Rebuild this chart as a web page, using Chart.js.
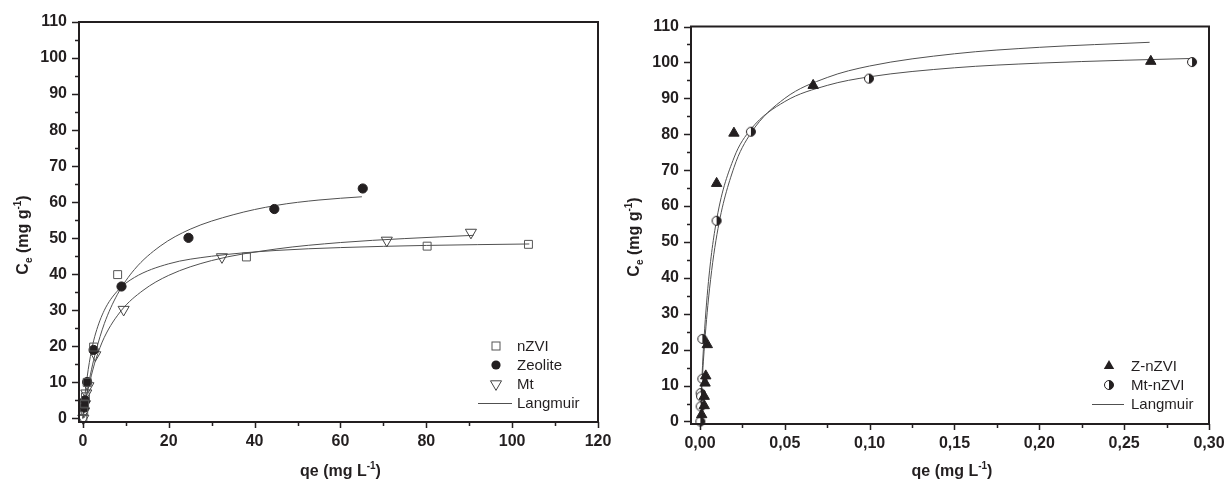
<!DOCTYPE html>
<html>
<head>
<meta charset="utf-8">
<script src="https://cdn.jsdelivr.net/npm/chart.js@4/dist/chart.umd.min.js"></script>
<style>
  html, body { margin: 0; padding: 0; background: #fff; }
  #wrap { position: relative; width: 1227px; height: 486px; }
  canvas { position: absolute; top: 0; }
</style>
</head>
<body>
<div id="wrap">
  <canvas id="left" width="613" height="486" style="left:0"></canvas>
  <canvas id="right" width="614" height="486" style="left:613px"></canvas>
</div>
<script>
// ---- left panel: bare materials ----
const leftXTicks = [0, 20, 40, 60, 80, 100, 120];
const leftYTicks = [0, 10, 20, 30, 40, 50, 60, 70, 80, 90, 100, 110];

const nzviX = [0, 0.2, 0.4, 0.6, 1.0, 2.5, 8.1, 38.1, 80.2, 103.8];
const nzviY = [0, 2, 4, 6, 10, 19.8, 39.9, 44.8, 47.8, 48.3];
const zeoliteX = [0.3, 0.5, 1.0, 2.5, 9.0, 24.6, 44.6, 65.2];
const zeoliteY = [3, 5, 10.1, 19, 36.6, 50.1, 58.1, 63.8];
const mtX = [0.1, 0.3, 0.5, 0.8, 1.3, 2.9, 9.5, 32.4, 70.8, 90.4];
const mtY = [0, 2, 4, 7, 9, 17.6, 30.2, 44.8, 49.4, 51.6];

// Langmuir fit lines
const fitNzviX = [0, 0.5, 1, 2, 3, 5, 8, 12, 20, 30, 45, 60, 80, 104];
const fitNzviY = [0, 6.5, 11.5, 18.8, 23.7, 30, 35.3, 39.1, 42.9, 45, 46.6, 47.4, 48, 48.4];
const fitZeoX = [0, 0.5, 1, 2, 3, 5, 8, 12, 18, 25, 35, 45, 55, 65];
const fitZeoY = [0, 4, 7.5, 13.5, 18.5, 26.3, 34.3, 41.3, 47.8, 52.5, 56.5, 59.1, 60.6, 61.5];
const fitMtX = [0, 0.5, 1, 2, 3, 5, 9, 14, 20, 30, 45, 60, 75, 91];
const fitMtY = [0, 3.6, 6.8, 12, 16.3, 22.5, 30, 35.5, 39.7, 43.8, 47, 48.8, 49.9, 50.8];

// ---- right panel: supported nZVI ----
const rightXTicks = [0, 0.05, 0.10, 0.15, 0.20, 0.25, 0.30];
const rightYTicks = [0, 10, 20, 30, 40, 50, 60, 70, 80, 90, 100, 110];

const znzviX = [0.001, 0.0025, 0.0025, 0.003, 0.0034, 0.0043, 0.0098, 0.020, 0.0667, 0.2657];
const znzviY = [1.9, 4.4, 7, 10.7, 12.7, 21.4, 66.3, 80.3, 93.6, 100.3];
const mtnzviX = [0.0002, 0.0004, 0.0004, 0.0006, 0.0014, 0.0014, 0.0098, 0.030, 0.0996, 0.290];
const mtnzviY = [0, 4.2, 7.9, 7, 11.9, 23, 55.9, 80.7, 95.5, 100.1];

const fitZX = [0, 0.002, 0.005, 0.01, 0.02, 0.03, 0.05, 0.075, 0.1, 0.15, 0.2, 0.265];
const fitZY = [0, 16.8, 34.1, 52.1, 70.7, 80.3, 90, 95.8, 99, 102.4, 104.2, 105.6];
const fitMX = [0, 0.002, 0.005, 0.01, 0.02, 0.03, 0.05, 0.075, 0.1, 0.15, 0.2, 0.25, 0.29];
const fitMY = [0, 20.1, 39, 56.7, 73.4, 81.4, 89.1, 93.6, 96, 98.5, 99.8, 100.6, 101.1];

const INK = '#231f20';
const CURVE = '#505050';
const FONT = "'Liberation Sans', Arial, sans-serif";

function pts(xs, ys) { return xs.map((x, i) => ({ x: x, y: ys[i] })); }

function makeHalfCircle(r) {
  const c = document.createElement('canvas');
  const s = Math.ceil(r * 2 + 3);
  c.width = c.height = s;
  const g = c.getContext('2d');
  const m = s / 2;
  g.fillStyle = '#fff';
  g.beginPath(); g.arc(m, m, r, 0, Math.PI * 2); g.fill();
  g.fillStyle = INK;
  g.beginPath(); g.arc(m, m, r, -Math.PI / 2, Math.PI / 2); g.closePath(); g.fill();
  g.strokeStyle = INK; g.lineWidth = 1;
  g.beginPath(); g.arc(m, m, r, 0, Math.PI * 2); g.stroke();
  return c;
}
const halfImg = makeHalfCircle(4.5);

const markers = {
  square:   { pointStyle: 'rect', pointRadius: 5.6, backgroundColor: 'rgba(0,0,0,0)', borderColor: '#555', pointBorderWidth: 1 },
  circle:   { pointStyle: 'circle', pointRadius: 4.6, backgroundColor: INK, borderColor: INK, pointBorderWidth: 1 },
  triDown:  { pointStyle: 'triangle', rotation: 180, pointRadius: 6.4, backgroundColor: 'rgba(0,0,0,0)', borderColor: '#444', pointBorderWidth: 1 },
  triUp:    { pointStyle: 'triangle', pointRadius: 6, backgroundColor: INK, borderColor: INK, pointBorderWidth: 1 },
  half:     { pointStyle: halfImg, pointRadius: 5 }
};

function pointSet(label, data, kind) {
  return Object.assign({ label: label, data: data, showLine: false, clip: false, order: 0 }, markers[kind]);
}
function curveSet(data) {
  return {
    label: 'Langmuir', data: data, showLine: true, pointRadius: 0, borderColor: CURVE,
    borderWidth: 1, cubicInterpolationMode: 'monotone', clip: false, order: 1
  };
}

// legend markers drawn by hand so they sit exactly where the figure has them
function drawMarker(ctx, kind, x, y) {
  ctx.save();
  ctx.lineWidth = 1;
  if (kind === 'square') {
    ctx.strokeStyle = '#555';
    ctx.strokeRect(x - 4, y - 4, 8, 8);
  } else if (kind === 'circle') {
    ctx.fillStyle = INK;
    ctx.beginPath(); ctx.arc(x, y, 4.6, 0, Math.PI * 2); ctx.fill();
  } else if (kind === 'triDown' || kind === 'triUp') {
    const r = kind === 'triDown' ? 6.4 : 6;
    const s = kind === 'triDown' ? -1 : 1;
    ctx.beginPath();
    for (let k = 0; k < 3; k++) {
      const a = k * 2 * Math.PI / 3;
      const px = x + Math.sin(a) * r, py = y - s * Math.cos(a) * r;
      if (k === 0) ctx.moveTo(px, py); else ctx.lineTo(px, py);
    }
    ctx.closePath();
    if (kind === 'triUp') { ctx.fillStyle = INK; ctx.fill(); }
    else { ctx.strokeStyle = '#444'; ctx.stroke(); }
  } else if (kind === 'half') {
    ctx.drawImage(halfImg, x - halfImg.width / 2, y - halfImg.height / 2);
  }
  ctx.restore();
}

function drawRich(ctx, parts, x, y, align) {
  // parts: [text, kind] where kind is '', 'sub' or 'sup'
  const big = 'bold 16px ' + FONT, small = 'bold 10px ' + FONT;
  let w = 0;
  parts.forEach(p => { ctx.font = p[1] ? small : big; w += ctx.measureText(p[0]).width; });
  let cx = align === 'center' ? x - w / 2 : x;
  ctx.textBaseline = 'alphabetic';
  ctx.textAlign = 'left';
  parts.forEach(p => {
    ctx.font = p[1] ? small : big;
    const dy = p[1] === 'sub' ? 4 : p[1] === 'sup' ? -7 : 0;
    ctx.fillText(p[0], cx, y + dy);
    cx += ctx.measureText(p[0]).width;
  });
}

const framePlugin = {
  id: 'frame',
  afterDraw(chart, args, o) {
    const { ctx, chartArea: a } = chart;
    const xs = chart.scales.x, ys = chart.scales.y;
    ctx.save();
    ctx.strokeStyle = INK;
    ctx.lineWidth = 2;
    ctx.strokeRect(a.left, a.top, a.right - a.left, a.bottom - a.top);

    ctx.lineWidth = 1.5;
    ctx.beginPath();
    for (let i = 0; i <= o.yCount; i++) {
      const py = Math.round(ys.getPixelForValue(i * o.yStep)) + 0.5;
      const len = i % 2 === 0 ? 7 : 4;
      ctx.moveTo(a.left - len, py); ctx.lineTo(a.left, py);
    }
    for (let i = 0; i <= o.xCount; i++) {
      const px = Math.round(xs.getPixelForValue(i * o.xStep)) + 0.5;
      const len = i % 2 === 0 ? 6 : 4;
      ctx.moveTo(px, a.bottom); ctx.lineTo(px, a.bottom + len);
    }
    ctx.stroke();

    // axis titles
    ctx.fillStyle = INK;
    drawRich(ctx, [['qe (mg L', ''], ['-1', 'sup'], [')', '']], (a.left + a.right) / 2 + 2, o.xTitleY, 'center');
    ctx.save();
    ctx.translate(o.yTitleX, o.yTitleY);
    ctx.rotate(-Math.PI / 2);
    drawRich(ctx, [['C', ''], ['e', 'sub'], [' (mg g', ''], ['-1', 'sup'], [')', '']], 0, 0, 'center');
    ctx.restore();

    // legend
    ctx.font = '15px ' + FONT;
    ctx.textBaseline = 'middle';
    ctx.textAlign = 'left';
    o.legend.forEach((item, i) => {
      const y = o.legendY + i * o.legendGap;
      if (item.kind === 'line') {
        ctx.strokeStyle = CURVE; ctx.lineWidth = 1;
        ctx.beginPath(); ctx.moveTo(o.lineX1, y + 0.5); ctx.lineTo(o.lineX2, y + 0.5); ctx.stroke();
      } else {
        drawMarker(ctx, item.kind, o.markerX, y);
      }
      ctx.fillStyle = INK;
      ctx.fillText(item.label, o.textX, y + 1);
    });
    ctx.restore();
  }
};

function makeChart(id, cfg) {
  const tickFont = { family: FONT, size: 16, weight: 'bold' };
  return new Chart(document.getElementById(id), {
    type: 'scatter',
    data: { datasets: cfg.datasets },
    options: {
      responsive: false,
      animation: false,
      events: [],
      layout: { padding: { top: cfg.top, right: cfg.right, left: 0, bottom: 0 } },
      plugins: { legend: { display: false }, tooltip: { enabled: false }, frame: cfg.frame },
      scales: {
        x: {
          type: 'linear', min: cfg.xMin, max: cfg.xMax,
          afterBuildTicks: s => { s.ticks = cfg.xTicks.map(v => ({ value: v })); },
          afterFit: s => { s.height = cfg.xHeight; s.paddingLeft = 0; s.paddingRight = 0; },
          grid: { display: false, drawTicks: false },
          border: { display: false },
          ticks: { font: tickFont, color: INK, padding: 10, maxRotation: 0, autoSkip: false, callback: cfg.xFormat }
        },
        y: {
          type: 'linear', min: cfg.yMin, max: 110,
          afterBuildTicks: s => { s.ticks = cfg.yTicks.map(v => ({ value: v })); },
          afterFit: s => { s.width = cfg.yWidth; s.paddingTop = 0; s.paddingBottom = 0; },
          grid: { display: false, drawTicks: false },
          border: { display: false },
          ticks: { font: tickFont, color: INK, padding: 12, autoSkip: false }
        }
      }
    },
    plugins: [framePlugin]
  });
}

makeChart('left', {
  xMin: -0.9, xMax: 120, yMin: -1, top: 22, right: 15, xHeight: 64, yWidth: 79,
  xTicks: leftXTicks, yTicks: leftYTicks,
  xFormat: v => String(v),
  datasets: [
    pointSet('nZVI', pts(nzviX, nzviY), 'square'),
    pointSet('Zeolite', pts(zeoliteX, zeoliteY), 'circle'),
    pointSet('Mt', pts(mtX, mtY), 'triDown'),
    curveSet(pts(fitNzviX, fitNzviY)),
    curveSet(pts(fitZeoX, fitZeoY)),
    curveSet(pts(fitMtX, fitMtY))
  ],
  frame: {
    yStep: 5, yCount: 22, xStep: 10, xCount: 12,
    xTitleY: 476, yTitleX: 28, yTitleY: 235,
    legend: [
      { label: 'nZVI', kind: 'square' },
      { label: 'Zeolite', kind: 'circle' },
      { label: 'Mt', kind: 'triDown' },
      { label: 'Langmuir', kind: 'line' }
    ],
    legendY: 346, legendGap: 19, markerX: 496, textX: 517, lineX1: 478, lineX2: 512
  }
});

makeChart('right', {
  xMin: -0.0053, xMax: 0.30, yMin: -0.7, top: 26.5, right: 18, xHeight: 62, yWidth: 78,
  xTicks: rightXTicks, yTicks: rightYTicks,
  xFormat: v => v.toFixed(2).replace('.', ','),
  datasets: [
    pointSet('Z-nZVI', pts(znzviX, znzviY), 'triUp'),
    pointSet('Mt-nZVI', pts(mtnzviX, mtnzviY), 'half'),
    curveSet(pts(fitZX, fitZY)),
    curveSet(pts(fitMX, fitMY))
  ],
  frame: {
    yStep: 5, yCount: 22, xStep: 0.025, xCount: 12,
    xTitleY: 476, yTitleX: 26, yTitleY: 237,
    legend: [
      { label: 'Z-nZVI', kind: 'triUp' },
      { label: 'Mt-nZVI', kind: 'half' },
      { label: 'Langmuir', kind: 'line' }
    ],
    legendY: 366, legendGap: 19, markerX: 496, textX: 518, lineX1: 479, lineX2: 511
  }
});
</script>
</body>
</html>
